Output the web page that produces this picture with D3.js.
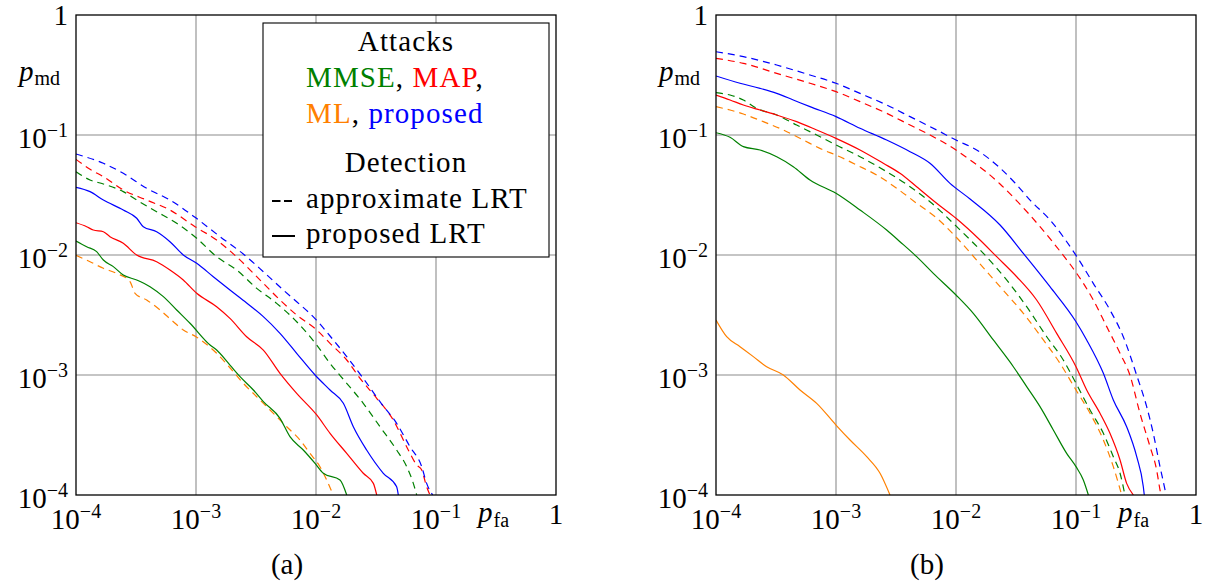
<!DOCTYPE html>
<html>
<head>
<meta charset="utf-8">
<script src="https://cdn.jsdelivr.net/npm/d3@7"></script>
<style>
body { margin: 0; background: #fff; }
</style>
</head>
<body>
<div id="chart"></div>
<script>
// values, stored as [log10 p_fa, log10 p_md]

// panel (a)
var aProposedApprox = [[-4,-1.158],[-3.772,-1.236],[-3.606,-1.319],[-3.411,-1.444],[-3.217,-1.542],[-3.008,-1.686],[-2.8,-1.847],[-2.606,-1.992],[-2.439,-2.139],[-2.272,-2.292],[-2.161,-2.389],[-2.008,-2.53],[-1.883,-2.675],[-1.744,-2.847],[-1.606,-3.028],[-1.467,-3.222],[-1.328,-3.403],[-1.217,-3.597],[-1.119,-3.764],[-1.078,-3.903],[-1.028,-4]];
var aMapApprox = [[-4,-1.203],[-3.883,-1.286],[-3.772,-1.347],[-3.606,-1.458],[-3.411,-1.542],[-3.217,-1.625],[-3.008,-1.764],[-2.828,-1.875],[-2.675,-2.003],[-2.439,-2.236],[-2.3,-2.375],[-2.161,-2.5],[-1.994,-2.625],[-1.883,-2.736],[-1.744,-2.875],[-1.633,-3.028],[-1.494,-3.194],[-1.356,-3.375],[-1.231,-3.625],[-1.161,-3.75],[-1.119,-3.792],[-1.078,-3.931],[-1.05,-4]];
var aMmseApprox = [[-4,-1.306],[-3.883,-1.375],[-3.772,-1.408],[-3.606,-1.472],[-3.494,-1.542],[-3.328,-1.639],[-3.161,-1.736],[-2.994,-1.861],[-2.828,-2.014],[-2.661,-2.125],[-2.494,-2.278],[-2.328,-2.403],[-2.161,-2.556],[-1.994,-2.75],[-1.883,-2.903],[-1.744,-3.069],[-1.606,-3.236],[-1.467,-3.431],[-1.328,-3.625],[-1.244,-3.764],[-1.189,-3.903],[-1.161,-4]];
var aMlApprox = [[-4,-2.003],[-3.883,-2.056],[-3.772,-2.111],[-3.661,-2.153],[-3.55,-2.222],[-3.508,-2.319],[-3.411,-2.375],[-3.3,-2.458],[-3.189,-2.556],[-3.106,-2.625],[-3.0,-2.681],[-2.828,-2.819],[-2.689,-2.972],[-2.606,-3.069],[-2.494,-3.181],[-2.383,-3.292],[-2.244,-3.431],[-2.133,-3.542],[-2.05,-3.653],[-1.967,-3.764],[-1.911,-3.875],[-1.856,-4]];
var aProposedLrt = [[-4,-1.436],[-3.883,-1.472],[-3.772,-1.542],[-3.606,-1.625],[-3.494,-1.694],[-3.439,-1.764],[-3.328,-1.806],[-3.217,-1.889],[-3.106,-2.0],[-2.994,-2.069],[-2.856,-2.181],[-2.717,-2.292],[-2.578,-2.4],[-2.439,-2.514],[-2.3,-2.653],[-2.161,-2.819],[-2.008,-3.0],[-1.883,-3.125],[-1.772,-3.236],[-1.689,-3.431],[-1.578,-3.625],[-1.439,-3.819],[-1.328,-3.931],[-1.314,-4]];
var aMapLrt = [[-4,-1.731],[-3.911,-1.764],[-3.856,-1.792],[-3.772,-1.806],[-3.717,-1.847],[-3.606,-1.903],[-3.494,-2.0],[-3.328,-2.056],[-3.217,-2.125],[-3.106,-2.208],[-2.994,-2.319],[-2.828,-2.431],[-2.717,-2.528],[-2.578,-2.681],[-2.439,-2.792],[-2.3,-2.986],[-2.161,-3.153],[-1.994,-3.333],[-1.883,-3.486],[-1.744,-3.653],[-1.606,-3.819],[-1.522,-3.903],[-1.494,-4]];
var aMmseLrt = [[-4,-1.883],[-3.911,-1.931],[-3.828,-1.972],[-3.772,-2.042],[-3.689,-2.097],[-3.606,-2.167],[-3.494,-2.208],[-3.383,-2.264],[-3.272,-2.347],[-3.161,-2.458],[-3.05,-2.569],[-2.883,-2.75],[-2.828,-2.792],[-2.717,-2.917],[-2.633,-3.014],[-2.522,-3.125],[-2.439,-3.222],[-2.3,-3.361],[-2.217,-3.514],[-2.106,-3.625],[-2.008,-3.736],[-1.939,-3.819],[-1.8,-3.875],[-1.744,-4]];

// panel (b)
var bProposedApprox = [[-4,-0.306],[-3.772,-0.347],[-3.494,-0.417],[-3.217,-0.5],[-3.0,-0.569],[-2.8,-0.653],[-2.578,-0.75],[-2.383,-0.847],[-2.161,-0.958],[-2.0,-1.042],[-1.828,-1.125],[-1.633,-1.275],[-1.508,-1.4],[-1.383,-1.542],[-1.217,-1.708],[-1.0,-2.003],[-0.856,-2.236],[-0.717,-2.458],[-0.606,-2.681],[-0.494,-3.003],[-0.411,-3.264],[-0.356,-3.486],[-0.3,-3.764],[-0.258,-3.958],[-0.25,-4]];
var bMapApprox = [[-4,-0.361],[-3.772,-0.403],[-3.494,-0.486],[-3.217,-0.569],[-3.0,-0.639],[-2.8,-0.722],[-2.578,-0.819],[-2.383,-0.917],[-2.217,-1.0],[-2.0,-1.125],[-1.883,-1.208],[-1.758,-1.3],[-1.633,-1.408],[-1.508,-1.533],[-1.3,-1.764],[-1.106,-2.003],[-0.994,-2.153],[-0.856,-2.375],[-0.744,-2.597],[-0.633,-2.819],[-0.55,-3.003],[-0.467,-3.319],[-0.383,-3.597],[-0.328,-3.792],[-0.3,-3.958],[-0.292,-4]];
var bMmseApprox = [[-4,-0.647],[-3.883,-0.667],[-3.772,-0.708],[-3.661,-0.778],[-3.494,-0.833],[-3.328,-0.917],[-3.161,-1.0],[-3.0,-1.083],[-2.8,-1.181],[-2.578,-1.306],[-2.383,-1.431],[-2.217,-1.556],[-1.994,-1.764],[-1.772,-1.986],[-1.578,-2.208],[-1.411,-2.431],[-1.244,-2.681],[-1.106,-2.875],[-1.0,-3.069],[-0.883,-3.292],[-0.772,-3.486],[-0.689,-3.681],[-0.633,-3.819],[-0.592,-4]];
var bMlApprox = [[-4,-0.764],[-3.883,-0.792],[-3.772,-0.825],[-3.606,-0.889],[-3.439,-0.958],[-3.272,-1.042],[-3.106,-1.125],[-3.0,-1.167],[-2.828,-1.25],[-2.661,-1.333],[-2.494,-1.444],[-2.328,-1.569],[-2.161,-1.692],[-2.0,-1.85],[-1.828,-2.042],[-1.633,-2.264],[-1.439,-2.486],[-1.272,-2.708],[-1.133,-2.903],[-1.0,-3.125],[-0.883,-3.319],[-0.772,-3.542],[-0.689,-3.764],[-0.619,-4]];
var bProposedLrt = [[-4,-0.508],[-3.8,-0.569],[-3.633,-0.611],[-3.494,-0.653],[-3.356,-0.708],[-3.217,-0.764],[-3.0,-0.847],[-2.8,-0.944],[-2.578,-1.042],[-2.383,-1.139],[-2.217,-1.236],[-2.05,-1.403],[-1.883,-1.533],[-1.633,-1.75],[-1.439,-1.986],[-1.217,-2.264],[-1.0,-2.556],[-0.911,-2.708],[-0.772,-2.986],[-0.689,-3.208],[-0.578,-3.431],[-0.494,-3.681],[-0.439,-3.931],[-0.431,-4]];
var bMapLrt = [[-4,-0.667],[-3.883,-0.708],[-3.772,-0.75],[-3.633,-0.792],[-3.494,-0.833],[-3.328,-0.889],[-3.161,-0.958],[-3.0,-1.028],[-2.8,-1.125],[-2.606,-1.236],[-2.467,-1.319],[-2.328,-1.431],[-2.161,-1.569],[-2.0,-1.694],[-1.8,-1.875],[-1.661,-2.014],[-1.494,-2.181],[-1.328,-2.375],[-1.161,-2.653],[-1.0,-2.931],[-0.911,-3.125],[-0.8,-3.319],[-0.717,-3.486],[-0.633,-3.708],[-0.578,-3.903],[-0.522,-4]];
var bMmseLrt = [[-4,-0.981],[-3.883,-1.019],[-3.772,-1.097],[-3.633,-1.125],[-3.494,-1.181],[-3.356,-1.264],[-3.217,-1.375],[-3.0,-1.486],[-2.8,-1.625],[-2.578,-1.792],[-2.467,-1.889],[-2.328,-2.014],[-2.189,-2.153],[-2.0,-2.333],[-1.856,-2.486],[-1.689,-2.708],[-1.522,-2.931],[-1.411,-3.097],[-1.3,-3.264],[-1.189,-3.458],[-1.078,-3.653],[-1.0,-3.764],[-0.939,-3.875],[-0.897,-4]];
var bMlLrt = [[-4,-2.542],[-3.911,-2.681],[-3.8,-2.764],[-3.689,-2.847],[-3.578,-2.931],[-3.439,-3.0],[-3.3,-3.125],[-3.161,-3.236],[-3.0,-3.417],[-2.883,-3.542],[-2.744,-3.681],[-2.633,-3.819],[-2.55,-4]];

var tickExps = [-4, -3, -2, -1, 0];
var attackColors = {MMSE: "#008000", MAP: "#ff0000", ML: "#ff8000", proposed: "#0000ff"};

var panelA = [
    {attack: "ML", dashed: true, pts: aMlApprox},
    {attack: "MMSE", dashed: false, pts: aMmseLrt},
    {attack: "MAP", dashed: false, pts: aMapLrt},
    {attack: "proposed", dashed: false, pts: aProposedLrt},
    {attack: "MMSE", dashed: true, pts: aMmseApprox},
    {attack: "MAP", dashed: true, pts: aMapApprox},
    {attack: "proposed", dashed: true, pts: aProposedApprox}
];
var panelB = [
    {attack: "ML", dashed: false, pts: bMlLrt},
    {attack: "MMSE", dashed: false, pts: bMmseLrt},
    {attack: "ML", dashed: true, pts: bMlApprox},
    {attack: "MMSE", dashed: true, pts: bMmseApprox},
    {attack: "MAP", dashed: false, pts: bMapLrt},
    {attack: "proposed", dashed: false, pts: bProposedLrt},
    {attack: "MAP", dashed: true, pts: bMapApprox},
    {attack: "proposed", dashed: true, pts: bProposedApprox}
];

var W = 1210, H = 584;
var size = 480;
var fs = 29, fsSmall = 20;
var serif = "'Liberation Serif', 'Times New Roman', 'DejaVu Serif', serif";

var svg = d3.select("#chart").append("svg")
    .attr("width", W)
    .attr("height", H)
    .attr("font-family", serif)
    .style("font-family", serif);

var x = d3.scaleLog().domain([1e-4, 1]).range([0, size]);
var y = d3.scaleLog().domain([1e-4, 1]).range([size, 0]);

function tickText(sel, e) {
    if (e === 0) {
        sel.text("1");
    } else {
        sel.append("tspan").text("10");
        sel.append("tspan").attr("font-size", fsSmall).attr("dy", -11).text("\u2212" + (-e));
    }
}

function drawPanel(left, top, series, id, caption) {
    var g = svg.append("g").attr("transform", "translate(" + left + "," + top + ")");

    g.append("clipPath").attr("id", "clip" + id)
        .append("rect").attr("width", size).attr("height", size);

    // grid
    tickExps.slice(1, 4).forEach(function(e) {
        var v = Math.pow(10, e);
        g.append("line")
            .attr("x1", x(v)).attr("x2", x(v)).attr("y1", 0).attr("y2", size)
            .attr("stroke", "#8c8c8c").attr("stroke-width", 1.1);
        g.append("line")
            .attr("x1", 0).attr("x2", size).attr("y1", y(v)).attr("y2", y(v))
            .attr("stroke", "#8c8c8c").attr("stroke-width", 1.1);
    });

    var line = d3.line()
        .curve(d3.curveMonotoneX)
        .x(function(d) { return x(Math.pow(10, d[0])); })
        .y(function(d) { return y(Math.pow(10, d[1])); });

    g.append("g").attr("clip-path", "url(#clip" + id + ")")
        .selectAll("path")
        .data(series)
        .enter().append("path")
        .attr("d", function(d) { return line(d.pts); })
        .attr("fill", "none")
        .attr("stroke", function(d) { return attackColors[d.attack]; })
        .attr("stroke-width", 1.2)
        .attr("stroke-dasharray", function(d) { return d.dashed ? "7,5" : null; });

    // frame
    g.append("rect")
        .attr("width", size).attr("height", size)
        .attr("fill", "none").attr("stroke", "#000").attr("stroke-width", 1.3);

    // x tick labels
    tickExps.forEach(function(e) {
        var t = g.append("text")
            .attr("x", x(Math.pow(10, e)))
            .attr("y", size + (e === 0 ? 29 : 34))
            .attr("text-anchor", "middle")
            .attr("font-size", fs);
        tickText(t, e);
    });

    // y tick labels
    tickExps.forEach(function(e) {
        var t = g.append("text")
            .attr("x", -8)
            .attr("y", y(Math.pow(10, e)) + (e === 0 ? 10 : 13))
            .attr("text-anchor", "end")
            .attr("font-size", fs);
        tickText(t, e);
    });

    // axis labels
    var xl = g.append("text").attr("x", 402).attr("y", size + 27).attr("font-size", fs);
    xl.append("tspan").attr("font-style", "italic").text("p");
    xl.append("tspan").attr("font-size", fsSmall).attr("dy", 5).attr("dx", 1).text("fa");

    var yl = g.append("text").attr("x", -57).attr("y", 66).attr("font-size", fs);
    yl.append("tspan").attr("font-style", "italic").text("p");
    yl.append("tspan").attr("font-size", fsSmall).attr("dy", 4).attr("dx", 1).text("md");

    // caption
    svg.append("text")
        .attr("x", left + 211).attr("y", 574)
        .attr("text-anchor", "middle")
        .attr("font-size", fs)
        .text(caption);

    return g;
}

drawPanel(76, 15, panelA, "a", "(a)");
drawPanel(716, 15, panelB, "b", "(b)");

// legend in panel (a)
var leg = svg.append("g").attr("letter-spacing", 1.1);
leg.append("rect")
    .attr("x", 263).attr("y", 23).attr("width", 286).attr("height", 234)
    .attr("fill", "#fff").attr("stroke", "#000").attr("stroke-width", 1.1);

leg.append("text").attr("x", 406).attr("y", 51).attr("text-anchor", "middle")
    .attr("font-size", fs).text("Attacks");

var attackRows = [["MMSE", "MAP"], ["ML", "proposed"]];
attackRows.forEach(function(row, i) {
    var t = leg.append("text").attr("x", 306).attr("y", 87 + i * 36).attr("font-size", fs);
    row.forEach(function(name, j) {
        t.append("tspan").attr("fill", attackColors[name]).text(name);
        t.append("tspan").text(j === 0 ? ", " : (i === 0 ? "," : ""));
    });
});

leg.append("text").attr("x", 406).attr("y", 172).attr("text-anchor", "middle")
    .attr("font-size", fs).text("Detection");

var detections = [{label: "approximate LRT", dashed: true}, {label: "proposed LRT", dashed: false}];
detections.forEach(function(d, i) {
    var yy = 208 + i * 35;
    leg.append("line")
        .attr("x1", 272).attr("x2", d.dashed ? 292 : 295)
        .attr("y1", yy - 7).attr("y2", yy - 7)
        .attr("stroke", "#000").attr("stroke-width", 2)
        .attr("stroke-dasharray", d.dashed ? "8.5,3.5" : null);
    leg.append("text").attr("x", 306).attr("y", yy).attr("font-size", fs).text(d.label);
});
</script>
</body>
</html>
